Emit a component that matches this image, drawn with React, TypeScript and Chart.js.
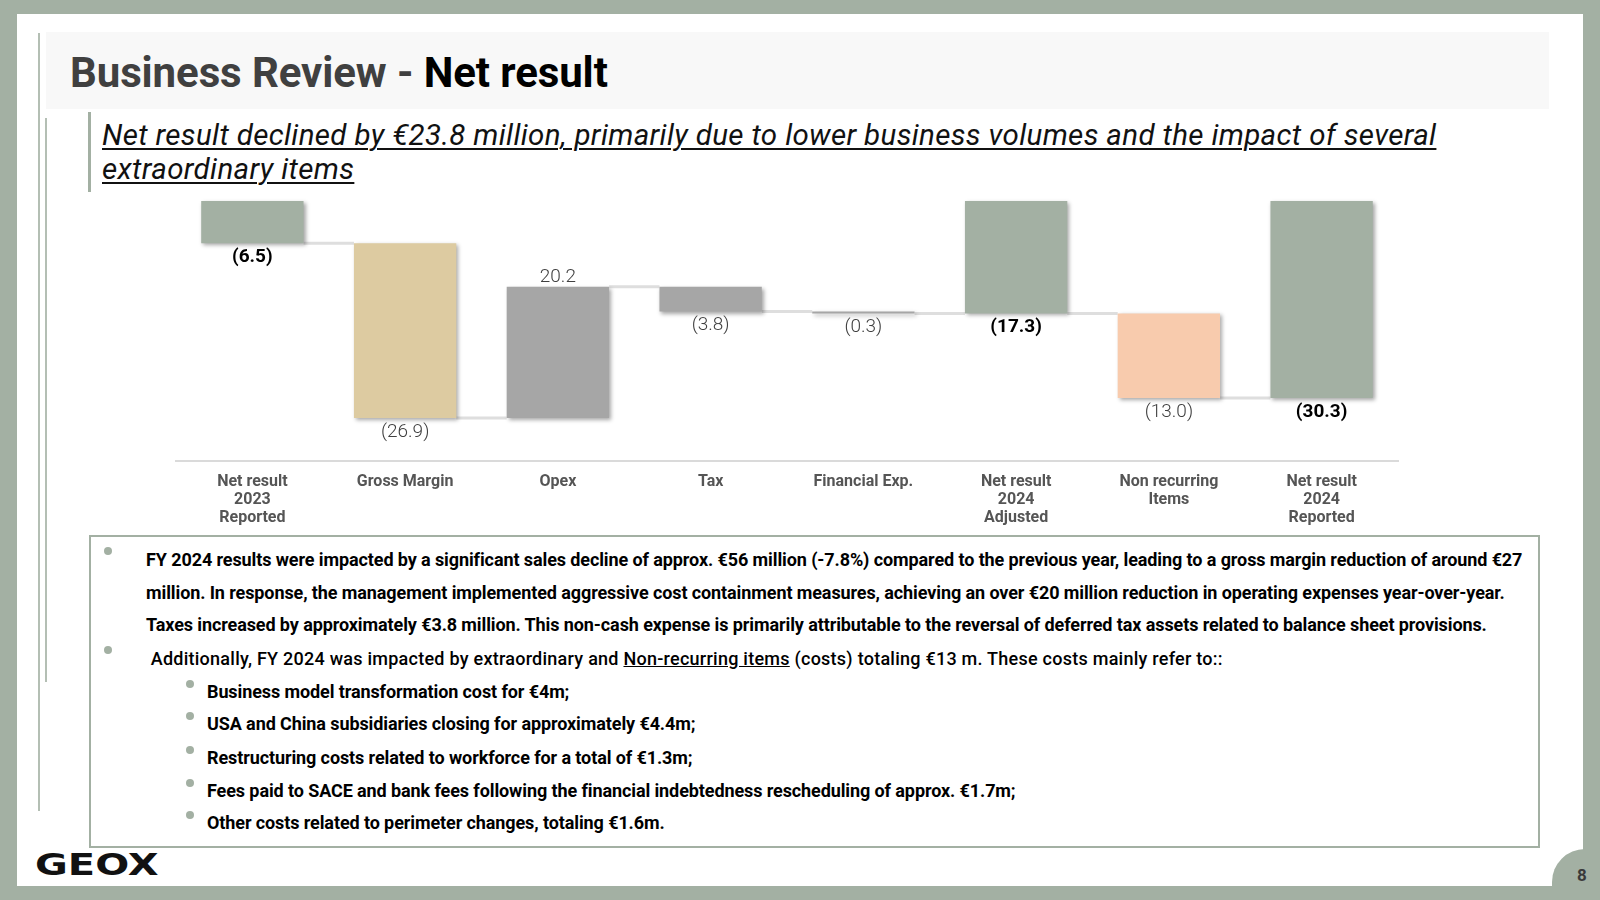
import React, { useEffect, useRef } from "react";
import { Chart, registerables } from "chart.js";

Chart.register(...registerables);

// ---- data ----
const categories: string[][] = [
  ["Net result", "2023", "Reported"],
  ["Gross Margin"],
  ["Opex"],
  ["Tax"],
  ["Financial Exp."],
  ["Net result", "2024", "Adjusted"],
  ["Non recurring", "Items"],
  ["Net result", "2024", "Reported"],
];
const values = [-6.5, -26.9, 20.2, -3.8, -0.3, -17.3, -13.0, -30.3];
const isTotal = [true, false, false, false, false, true, false, true];
const barColors = ["#a3b0a3", "#ddcba1", "#a6a6a6", "#a6a6a6", "#a6a6a6", "#a3b0a3", "#f8cbad", "#a3b0a3"];
const yMin = -40;
const yMax = 0;

const mainBullets = [
  "FY 2024 results were impacted by a significant sales decline of approx. €56 million (-7.8%) compared to the previous year, leading to a gross margin reduction of around €27",
  "million. In response, the management implemented aggressive cost containment measures, achieving an over €20 million reduction in operating expenses year-over-year.",
  "Taxes increased by approximately €3.8 million. This non-cash expense is primarily attributable to the reversal of deferred tax assets related to balance sheet provisions.",
];
const subBullets = [
  "Business model transformation cost for €4m;",
  "USA and China subsidiaries closing for approximately €4.4m;",
  "Restructuring costs related to workforce for a total of €1.3m;",
  "Fees paid to SACE and bank fees following the financial indebtedness rescheduling of approx. €1.7m;",
  "Other costs related to perimeter changes, totaling €1.6m.",
];

// floating ranges for waterfall
let running = 0;
const ranges: [number, number][] = values.map((v, i) => {
  if (isTotal[i]) {
    running = v;
    return [0, v];
  }
  const s = running;
  running = Math.round((running + v) * 10) / 10;
  return [s, running];
});

const fmt = (v: number) => (v < 0 ? `(${Math.abs(v).toFixed(1)})` : v.toFixed(1));

const waterfallPlugin = {
  id: "waterfall",
  beforeDatasetsDraw(chart: any) {
    const ctx = chart.ctx;
    const meta = chart.getDatasetMeta(0);
    const y = chart.scales.y;
    ctx.save();
    ctx.strokeStyle = "#dedede";
    ctx.lineWidth = 3;
    for (let i = 0; i < meta.data.length - 1; i++) {
      const a = meta.data[i];
      const b = meta.data[i + 1];
      const py = y.getPixelForValue(ranges[i][1]);
      ctx.beginPath();
      ctx.moveTo(a.x + a.width / 2, py);
      ctx.lineTo(b.x - b.width / 2, py);
      ctx.stroke();
    }
    ctx.restore();
    ctx.save();
    ctx.shadowColor = "rgba(0,0,0,0.35)";
    ctx.shadowBlur = 4;
    ctx.shadowOffsetX = 2;
    ctx.shadowOffsetY = 2;
  },
  afterDatasetsDraw(chart: any) {
    const ctx = chart.ctx;
    ctx.restore();
    const meta = chart.getDatasetMeta(0);
    const y = chart.scales.y;
    ctx.save();
    ctx.textAlign = "center";
    ctx.textBaseline = "middle";
    meta.data.forEach((bar: any, i: number) => {
      const [s, e] = ranges[i];
      const v = values[i];
      const top = y.getPixelForValue(Math.max(s, e));
      const bottom = y.getPixelForValue(Math.min(s, e));
      ctx.font = isTotal[i] ? "bold 19px Roboto" : "300 19px Roboto";
      ctx.fillStyle = isTotal[i] ? "#000000" : "#404040";
      const ly = v < 0 ? bottom + 14 : top - 10;
      ctx.fillText(fmt(v), bar.x, ly);
    });
    ctx.restore();
  },
};

const FRAME = "#a3b0a3";

export default function App() {
  const ref = useRef<HTMLCanvasElement>(null);

  useEffect(() => {
    const chart = new Chart(ref.current as HTMLCanvasElement, {
      type: "bar",
      data: {
        labels: categories,
        datasets: [
          {
            data: ranges as any,
            backgroundColor: barColors,
            borderWidth: 0,
            categoryPercentage: 1,
            barPercentage: 0.67,
            clip: false as any,
          },
        ],
      },
      options: {
        animation: false,
        responsive: false,
        devicePixelRatio: 1,
        layout: { padding: { left: 26, right: 32, top: 21, bottom: 0 } },
        plugins: { legend: { display: false }, tooltip: { enabled: false } },
        scales: {
          y: { display: false, min: yMin, max: yMax },
          x: {
            grid: { display: false },
            border: { display: true, color: "#dadada", width: 2 },
            ticks: {
              color: "#555555",
              font: { family: "Roboto", weight: "bold", size: 16, lineHeight: 1.125 },
              padding: 4,
              maxRotation: 0,
              autoSkip: false,
            },
            afterFit: (scale: any) => {
              scale.height = 69;
            },
          },
        },
      },
      plugins: [waterfallPlugin],
    });
    return () => chart.destroy();
  }, []);

  const bodyText: React.CSSProperties = {
    position: "absolute",
    whiteSpace: "nowrap",
    fontFamily: "Roboto",
    fontSize: 18,
    fontWeight: 700,
    letterSpacing: -0.1,
    lineHeight: "20px",
    color: "#000",
  };
  const dot = (x: number, y: number, key: string) => (
    <div
      key={key}
      style={{
        position: "absolute",
        left: x - 4,
        top: y - 4,
        width: 8,
        height: 8,
        borderRadius: 4,
        background: FRAME,
      }}
    />
  );
  const mainCenters = [560, 593, 625];
  const subCenters = [692, 724, 758, 791, 823];

  return (
    <div
      style={{
        position: "fixed",
        left: 0,
        top: 0,
        width: 1600,
        height: 900,
        background: FRAME,
        overflow: "hidden",
        fontFamily: "Roboto",
      }}
    >
      {/* white slide */}
      <div style={{ position: "absolute", left: 17, top: 14, width: 1566, height: 872, background: "#fff" }} />
      {/* page tab */}
      <div
        style={{
          position: "absolute",
          left: 1552,
          top: 849,
          width: 60,
          height: 60,
          background: FRAME,
          borderTopLeftRadius: 33,
        }}
      />
      <div
        style={{
          position: "absolute",
          left: 1572,
          top: 864,
          width: 20,
          textAlign: "center",
          fontSize: 17,
          fontWeight: 700,
          color: "#3a3a3a",
          lineHeight: "22px",
        }}
      >
        8
      </div>
      {/* vertical decoration lines */}
      <div style={{ position: "absolute", left: 38, top: 33, width: 2, height: 778, background: "#b4bfb4" }} />
      <div style={{ position: "absolute", left: 45, top: 118, width: 2, height: 564, background: "#b4bfb4" }} />
      {/* title bar */}
      <div style={{ position: "absolute", left: 46, top: 32, width: 1503, height: 77, background: "#f8f8f8" }} />
      <div
        style={{
          position: "absolute",
          left: 70,
          top: 49,
          whiteSpace: "nowrap",
          fontSize: 42,
          fontWeight: 700,
          lineHeight: "48px",
          letterSpacing: -0.1,
        }}
      >
        <span style={{ color: "#404040" }}>Business Review - </span>
        <span style={{ color: "#000" }}>Net result</span>
      </div>
      {/* subtitle */}
      <div style={{ position: "absolute", left: 88, top: 112, width: 3, height: 80, background: FRAME }} />
      {["Net result declined by €23.8 million, primarily due to lower business volumes and the impact of several", "extraordinary items"].map(
        (t, i) => (
          <div
            key={t}
            style={{
              position: "absolute",
              left: 102,
              top: 118 + i * 34,
              whiteSpace: "nowrap",
              fontSize: 29.5,
              letterSpacing: 0.35,
              fontStyle: "italic",
              fontWeight: 400,
              lineHeight: "34px",
              textDecoration: "underline",
              textDecorationThickness: 2,
              textUnderlineOffset: 3,
              color: "#111",
            }}
          >
            {t}
          </div>
        )
      )}
      {/* chart */}
      <canvas
        ref={ref}
        width={1280}
        height={350}
        style={{ position: "absolute", left: 150, top: 180, width: 1280, height: 350 }}
      />
      {/* text box */}
      <div
        style={{
          position: "absolute",
          left: 89,
          top: 535,
          width: 1447,
          height: 309,
          border: `2px solid ${FRAME}`,
          background: "transparent",
        }}
      />
      {dot(108, 551, "d1")}
      {dot(108, 650, "d2")}
      {mainBullets.map((t, i) => (
        <div key={t} style={{ ...bodyText, left: 146, top: mainCenters[i] - 10 }}>
          {t}
        </div>
      ))}
      <div style={{ ...bodyText, left: 146, top: 659 - 10, fontWeight: 500, letterSpacing: 0.25 }}>
        {"\u00a0Additionally, FY 2024 was impacted by extraordinary and "}
        <span style={{ textDecoration: "underline" }}>Non-recurring items</span>
        {" (costs) totaling €13 m. These costs mainly refer to::"}
      </div>
      {subBullets.map((t, i) => (
        <React.Fragment key={t}>
          {dot(190, subCenters[i] - 8, "s" + i)}
          <div style={{ ...bodyText, left: 207, top: subCenters[i] - 10 }}>{t}</div>
        </React.Fragment>
      ))}
      {/* logo */}
      <div
        style={{
          position: "absolute",
          left: 35,
          top: 846,
          whiteSpace: "nowrap",
          fontFamily: "DejaVu Sans",
          fontSize: 31,
          fontWeight: 700,
          lineHeight: "36px",
          color: "#111",
          transform: "scaleX(1.29)",
          transformOrigin: "left center",
        }}
      >
        GEOX
      </div>
    </div>
  );
}
